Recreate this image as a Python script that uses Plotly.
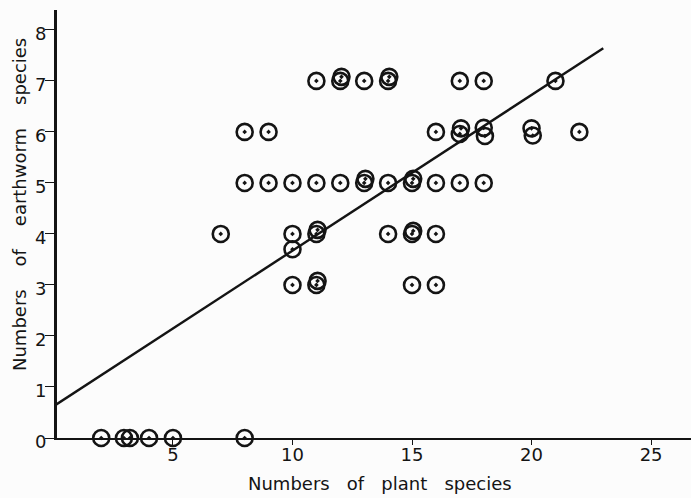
import plotly.graph_objects as go

# Data
plant_species = [
    2, 2.95, 3.2, 4, 5, 8,                       # 0 earthworm species
    10, 11, 11.05, 15, 16,                        # 3
    10,                                           # 3.7
    7, 10, 11, 11.05, 14, 15, 15.05, 16,          # 4
    8, 9, 10, 11, 12, 13, 13.05, 14, 15, 15.05, 16, 17, 18,   # 5
    8, 9, 16, 17, 17.05, 18, 18.05, 20, 20.05, 22,            # 6
    11, 12, 12.05, 13, 14, 14.05, 17, 18, 21,                 # 7
]
earthworm_species = [
    0, 0, 0, 0, 0, 0,
    3, 3, 3.08, 3, 3,
    3.7,
    4, 4, 4, 4.08, 4, 4, 4.06, 4,
    5, 5, 5, 5, 5, 5, 5.08, 5, 5, 5.08, 5, 5, 5,
    6, 6, 6, 5.96, 6.07, 6.08, 5.92, 6.07, 5.93, 6,
    7, 7, 7.08, 7, 7, 7.08, 7, 7, 7,
]

reg_x = [0, 23.0]
reg_y = [0.62, 7.64]

x_ticks = [5, 10, 15, 20, 25]
y_ticks = [0, 1, 2, 3, 4, 5, 6, 7, 8]

ink = "#141414"
font_family = "DejaVu Sans, sans-serif"
sp = "\u00a0\u00a0\u00a0"
spy = "\u00a0\u00a0\u00a0\u00a0"

fig = go.Figure()
fig.add_trace(go.Scatter(
    x=reg_x, y=reg_y, mode="lines",
    line=dict(color=ink, width=2.4), hoverinfo="skip", showlegend=False,
))
fig.add_trace(go.Scatter(
    x=plant_species, y=earthworm_species, mode="markers",
    marker=dict(symbol="circle-open-dot", size=16, color=ink,
                line=dict(width=2.6, color=ink)),
    showlegend=False, cliponaxis=False,
))

fig.update_layout(
    width=691, height=498,
    margin=dict(l=57, r=0, t=10, b=60),
    paper_bgcolor="#fcfcfc", plot_bgcolor="#fcfcfc",
    font=dict(family=font_family, color=ink, size=17),
    xaxis=dict(
        range=[0.15, 26.67], tickvals=x_ticks, ticktext=[str(v) for v in x_ticks],
        showgrid=False, zeroline=False, showline=True, linecolor=ink, linewidth=2.2,
        ticks="outside", ticklen=5, tickwidth=1.3, tickcolor=ink,
        ticklabelstandoff=-6,
        tickfont=dict(size=18, family=font_family, color=ink),
    ),
    yaxis=dict(
        range=[0, 8.39], tickvals=y_ticks, ticktext=[str(v) for v in y_ticks],
        showgrid=False, zeroline=False, showline=True, linecolor=ink, linewidth=2.8,
        ticks="outside", ticklen=9, tickwidth=1.3, tickcolor=ink,
        ticklabelstandoff=-5, ticklabelshift=4,
        tickfont=dict(size=18, family=font_family, color=ink),
    ),
    annotations=[
        dict(text=f"Numbers{sp}of{sp}plant{sp}species",
             xref="paper", yref="paper", x=(380 - 57) / 634, y=-(483 - 438) / 428,
             xanchor="center", yanchor="middle", showarrow=False,
             font=dict(size=18, family=font_family, color=ink)),
        dict(text=f"Numbers{spy}of{spy}earthworm{spy}species",
             xref="paper", yref="paper", x=-(57 - 19) / 634, y=(438 - 205) / 428,
             xanchor="center", yanchor="middle", textangle=-90, showarrow=False,
             font=dict(size=18, family=font_family, color=ink)),
    ],
)

fig.write_html("out.html")
